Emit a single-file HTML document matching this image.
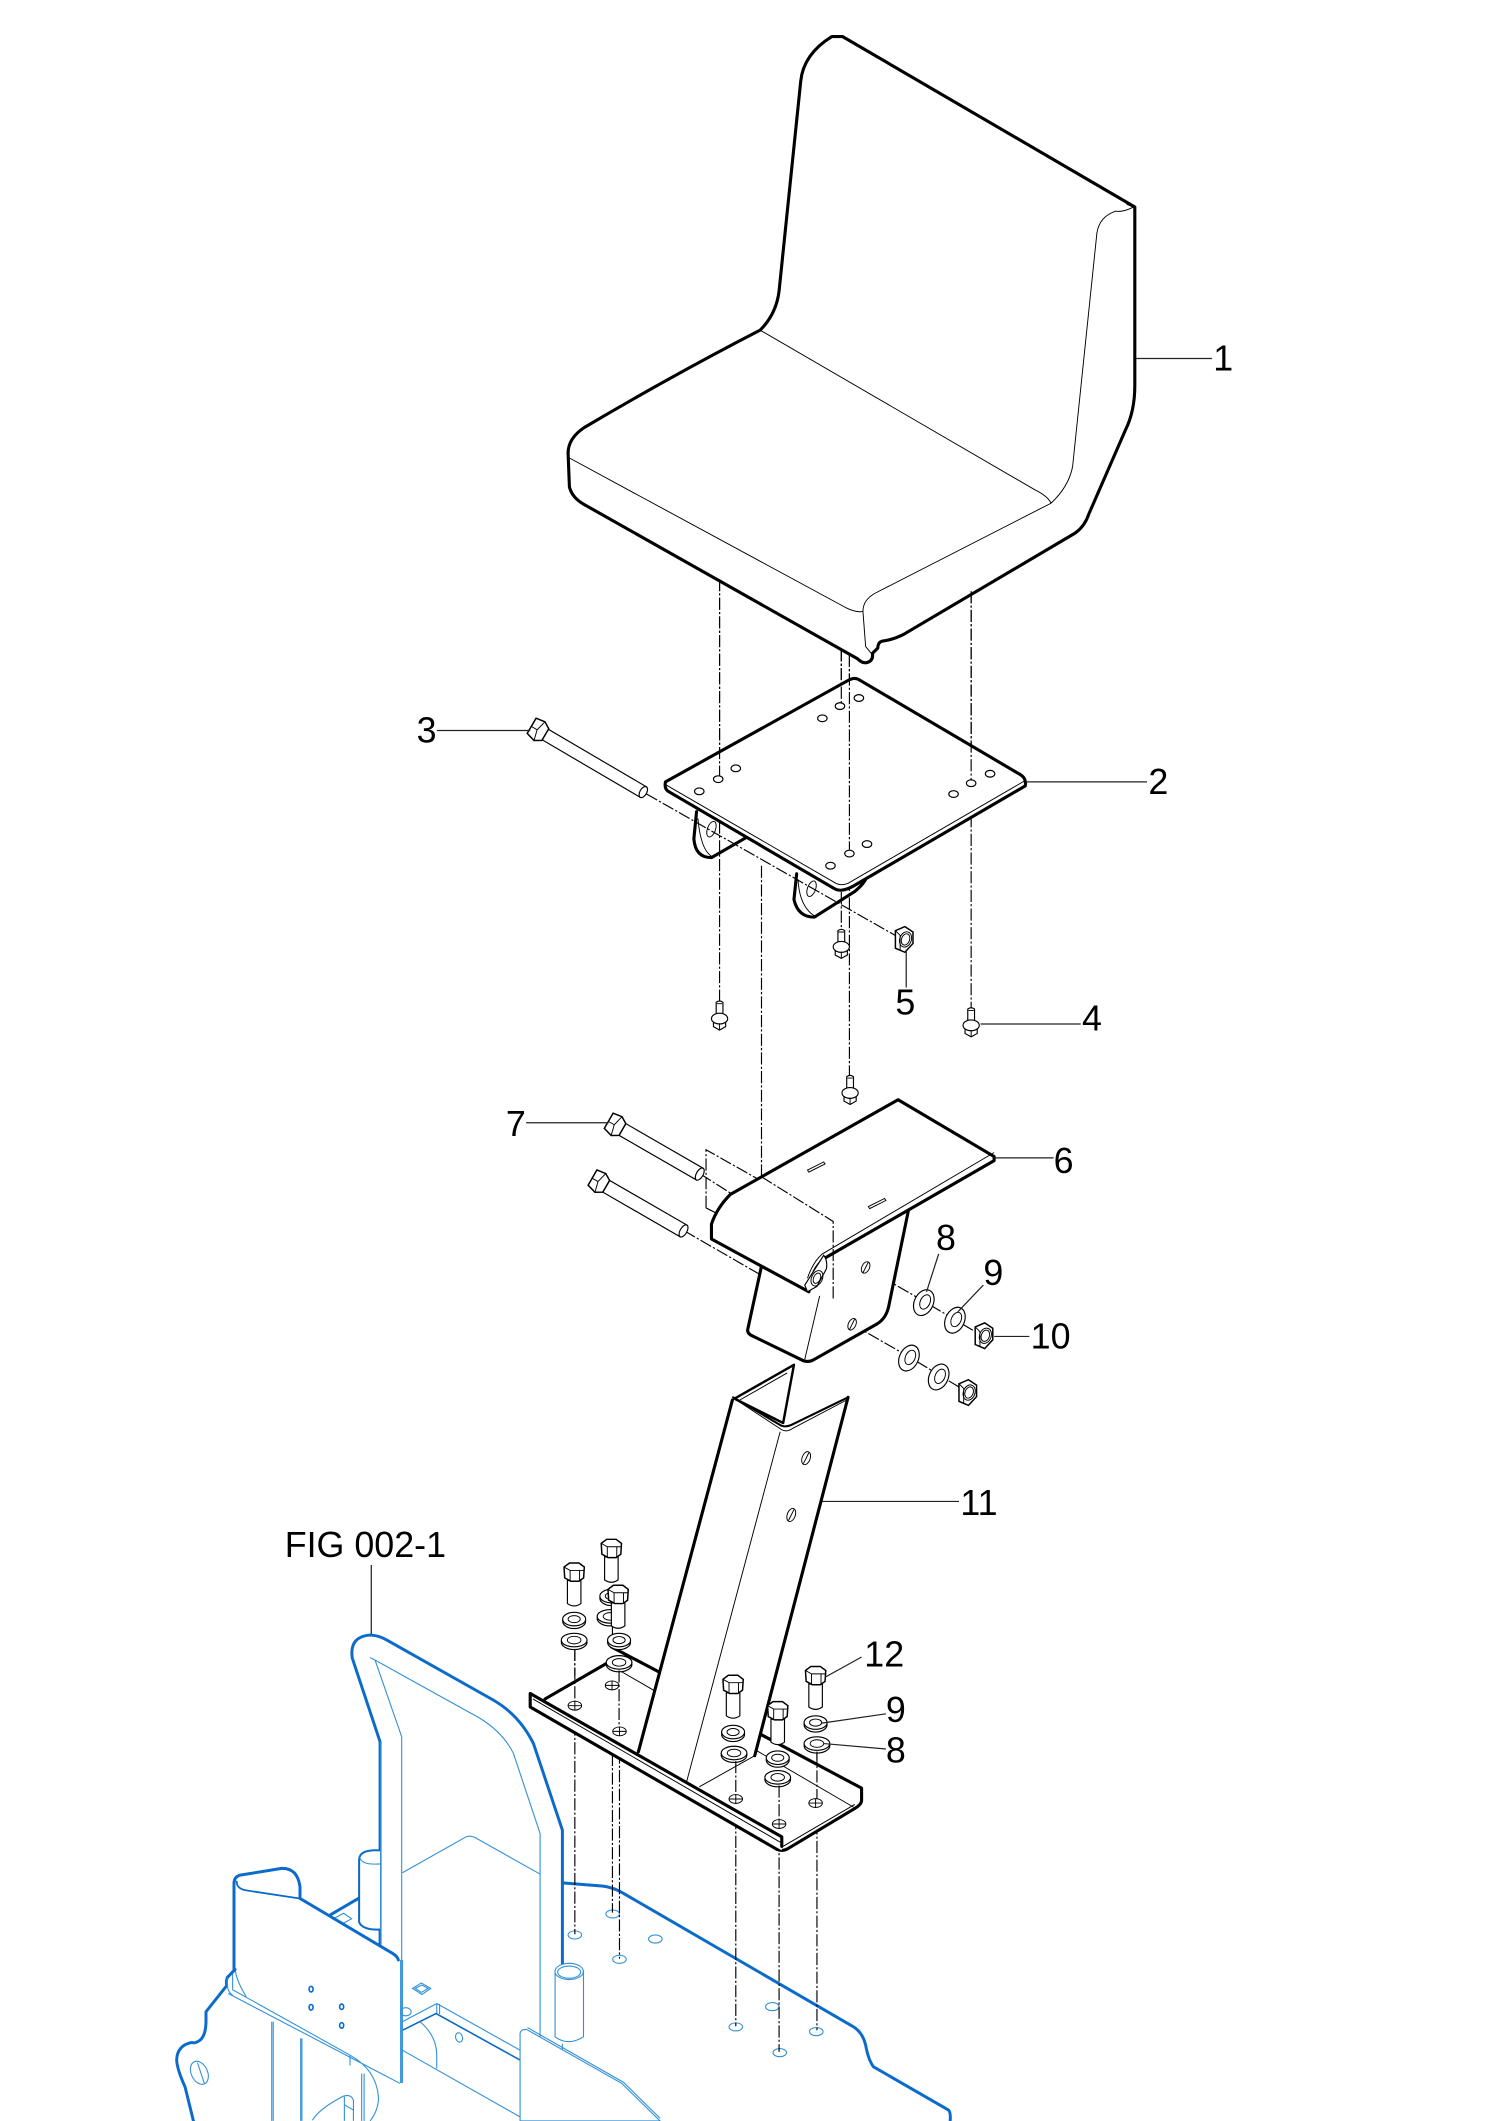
<!DOCTYPE html>
<html><head><meta charset="utf-8"><style>
html,body{margin:0;padding:0;background:#fff}
svg{display:block}
text{font-family:"Liberation Sans",sans-serif;font-size:26.5px;fill:#000}
.k{fill:none;stroke:#000;stroke-width:2.300;stroke-linecap:round;stroke-linejoin:round}
.kw{fill:#fff;stroke:#000;stroke-width:2.300;stroke-linejoin:round}
.t{fill:none;stroke:#000;stroke-width:.7}
.tw{fill:#fff;stroke:#000;stroke-width:.85}
.l{fill:none;stroke:#222;stroke-width:.9}
.d{fill:none;stroke:#000;stroke-width:.85;stroke-dasharray:9 1.600 1.600 1.600}
.b{fill:none;stroke:#0b6bcb;stroke-width:2.200;stroke-linejoin:round;stroke-linecap:round}
.bw{fill:#fff;stroke:#0b6bcb;stroke-width:2.200;stroke-linejoin:round}
.c{fill:none;stroke:#2f8fd8;stroke-width:.8}
.cw{fill:#fff;stroke:#2f8fd8;stroke-width:.8}
.bm{fill:none;stroke:#0b6bcb;stroke-width:1.200}
</style></head><body>
<svg width="1500" height="2121" viewBox="0 0 1109 1568" xmlns="http://www.w3.org/2000/svg">
<defs>
<g id="hb"><!-- vertical hex bolt -->
<path class="tw" d="M-5 13V30Q0 33.500 5 30V13Z"/>
<path class="tw" style="stroke-width:1.100" d="M-7.500 3L-3.500 0H3.500L7.500 3L7 11L3.500 13.500H-2.500L-7 11Z"/>
<path class="t" d="M-7.500 3L-3 5.500H7.500M-3 5.500V13.500M4 5.500V13.500"/>
</g>
<g id="sw"><ellipse class="tw" cx="0" cy="1.500" rx="8.500" ry="5.500"/><ellipse class="tw" cx="0" cy="0" rx="8.500" ry="5"/><ellipse class="t" cx="0" cy="0" rx="4.500" ry="2.600"/></g>
<g id="fw"><ellipse class="tw" cx="0" cy="1.500" rx="9.500" ry="5.500"/><ellipse class="tw" cx="0" cy="0" rx="9.500" ry="5"/><ellipse class="t" cx="0" cy="0" rx="5" ry="2.800"/></g>
<g id="ph"><ellipse class="t" cx="0" cy="0" rx="5" ry="3.300"/><path class="t" d="M-5 0H5M0-3.300V3.300"/></g>
<g id="fb"><!-- flange bolt -->
<path class="tw" d="M-2.500-10Q0-12 2.500-10V0H-2.500Z"/>
<path class="tw" d="M-4.500 3V8L0 10.500L4.500 8V3Z"/>
<ellipse class="tw" cx="0" cy="2" rx="6" ry="4"/>
<path class="t" d="M0 5.500V10.500M-2 -9H2"/>
</g>
<g id="nut"><path class="tw" style="stroke-width:1.100" d="M-6-7L1-10L7-6L7 2.500L1 9L-6 6Z"/><ellipse class="t" cx="1.500" cy="-.5" rx="4.300" ry="5.800" transform="rotate(20 1.500 -.5)"/><ellipse class="t" cx="1.500" cy="-.5" rx="3" ry="4.300" transform="rotate(20 1.500 -.5)"/><path class="t" d="M-6-7L-2.500-3.500L-2.500 7.500"/></g>
<g id="wsh"><ellipse class="tw" cx="0" cy="0" rx="7" ry="10" transform="rotate(25)"/><ellipse class="t" cx="1" cy="-.5" rx="3.600" ry="5.600" transform="rotate(25 1 -.5)"/></g>
<g id="lb"><!-- long bolt head local -->
<path class="tw" style="stroke-width:1.100" d="M-6-7L1-8L6-5V5L1 8L-6 6Z"/><path class="t" d="M1-8L-1 0L1 8M-6 0H-1"/>
</g>
</defs>

<!-- BLUE FRAME -->
<g>
<path class="c" d="M297.500 1384.500L343.800 1358.400Q347 1356.600 351 1358.400L399.300 1385.500"/>
<path class="b" d="M415.800 1392L446 1394.400Q454 1395.500 461 1399.800L631 1498.400Q638 1503 640 1512Q642 1523 645.800 1528L701.300 1560Q703 1562 702.500 1568"/>
<path class="c" d="M273.600 1225.500L277.300 1227.300L297 1284V1540M277.300 1227.300L355 1270.400Q372 1281 379.600 1296.300L399.300 1355.500V1505.800"/>
<path class="b" d="M281 1437V1287.700L260.500 1226Q258 1210 273.600 1208.800Q280 1209 286 1212.500L364.800 1256.900Q384 1268 394.400 1289L415.800 1353V1451.600"/>
<path class="c" d="M281.500 1287.700V1437"/>
<ellipse class="c" cx="425" cy="1430.500" rx="5" ry="3"/><ellipse class="c" cx="453" cy="1415" rx="5" ry="3"/><ellipse class="c" cx="458" cy="1448.500" rx="5" ry="3"/><ellipse class="c" cx="484.500" cy="1433.500" rx="5" ry="3"/><ellipse class="c" cx="544" cy="1498.500" rx="5" ry="3"/><ellipse class="c" cx="571" cy="1483.500" rx="5" ry="3"/><ellipse class="c" cx="576.500" cy="1517.500" rx="5" ry="3"/><ellipse class="c" cx="603.500" cy="1502" rx="5" ry="3"/>
<!-- cylinder behind -->
<path class="bw" style="stroke-width:1.500" d="M281 1368Q265.500 1367 265.500 1375V1421Q268 1427 281 1426.500"/>
<path class="c" d="M281 1378Q267 1379 266 1373"/>
<path class="b" d="M244 1415.800L265 1403.500"/>
<path class="c" d="M247.500 1418L254 1414.500L260 1418.500L253.500 1422Z"/>
<path class="c" d="M305 1470L311.500 1466L318.500 1470L312 1474.500ZM307 1470L312 1467.500L316.500 1470L311.500 1473Z"/>
<ellipse class="c" cx="300" cy="1487.300" rx="4" ry="3"/>
<!-- lower-right channel -->
<path class="c" d="M297.500 1494.700L322.900 1481.200L384.500 1515.700M322.900 1481.200V1488.600M325 1481.500V1489"/>
<path class="bm" d="M297.500 1501L322.400 1488.600L384.500 1523"/>
<path class="c" d="M310.600 1494.700Q322.900 1505 322.900 1520V1529.200M297.500 1515.700L384.500 1565"/>
<ellipse class="c" cx="339.400" cy="1506.300" rx="2.500" ry="3.500" transform="rotate(-15 339.400 1506.300)"/>
<!-- mount plate -->
<path class="bw" stroke="none" style="stroke:none" d="M173 1392L177.500 1386.300L208.300 1381.300Q220 1381 221.800 1395V1403.500L290.900 1444.200Q296 1447 296 1452V1540.300L172 1470Z"/>
<path class="b" d="M173 1456V1392.400Q173 1387.500 177.500 1386.300L208.300 1381.300Q220 1381 221.800 1395V1403.500L290 1444Q294 1446.500 294.500 1449"/>
<path class="b" style="stroke-width:1.300" d="M175 1391Q175 1396 181 1397.400L221 1403.500"/>
<path class="c" d="M296.200 1449V1540M297.500 1449V1540M173.800 1456Q175 1465 182 1476M172 1471L258.800 1519.400Q278 1530 279.800 1550Q280 1560 273.600 1568M168.800 1473.800L295.800 1540.300M172 1459.500V1471M258.800 1519.400V1527"/>
<ellipse class="bm" cx="230" cy="1470.600" rx="1.500" ry="2"/><ellipse class="bm" cx="230" cy="1484" rx="1.500" ry="2"/><ellipse class="bm" cx="252.600" cy="1483.600" rx="1.500" ry="2"/><ellipse class="bm" cx="252.600" cy="1497.400" rx="1.500" ry="2"/>
<path class="b" d="M173.800 1456L168 1462Q167 1465 167.600 1468L152.300 1487.300V1495Q152 1505 147.900 1508.300Q144 1511 142 1510Q131 1512 130.600 1523Q131 1530 136.800 1542.800L143 1568"/>
<path class="c" d="M168 1462Q167 1472 172 1475"/>
<ellipse class="c" cx="147.400" cy="1532.400" rx="6" ry="9" transform="rotate(-25 147.400 1532.400)"/>
<path class="c" d="M146 1525L151 1540"/>
<path class="c" d="M200.900 1494.700V1568M202 1494.700V1568M222.300 1507V1568M223.200 1507V1568M267.400 1533V1568M269.200 1533V1568"/>
<path class="c" d="M231 1567.500Q236 1559 253.900 1549.700Q260 1548 261.300 1553V1568M254.600 1550V1568M254.600 1556L261.300 1560"/>
<!-- right cylinder -->
<path class="cw" d="M410.400 1457V1505.800Q420 1513 431.400 1505.800V1457Z"/>
<ellipse class="cw" cx="420.800" cy="1457.500" rx="10.500" ry="6"/><ellipse class="c" cx="420.800" cy="1458" rx="8.500" ry="4.500"/>
<path class="c" d="M415.800 1511V1516"/>
<!-- right plate -->
<path class="cw" d="M384.500 1568V1503.300Q385 1500 389.400 1500.400L459.700 1540.300L488 1568Z"/>
<path class="c" d="M390 1499L461 1539.500L488 1566"/>
</g>

<!-- LUGS -->
<path class="tw" d="M515 600L513 620Q514 634 526 634L552 619"/>
<path class="k" d="M515 600L513 620Q514 634 526 634L552 619"/>
<path class="tw" style="stroke:none" d="M589 646L587 665Q590 678 602 678L640 652L620 640Z"/>
<path class="k" d="M589 646L587 665Q590 678 602 678L632 659Q638 654 640 650"/>
<path class="t" d="M516 605Q518 628 526 633M590 650Q591 670 602 677"/>
<ellipse class="t" cx="526" cy="613" rx="3" ry="6" transform="rotate(20 526 613)"/>
<ellipse class="t" cx="600" cy="657" rx="3" ry="6" transform="rotate(20 600 657)"/>

<!-- DASHED -->
<path class="d" d="M425 1219V1430M452.800 1200V1414M458 1212V1448M544 1302V1498M576 1318V1517M604 1292V1501"/>
<path class="d" d="M532 428V745M718 437V750M622 480V690M628 484V797M563 640V870"/>
<path class="d" d="M478 587L668 695M522 893V850L616 903V960M522 893L530 897M518 868L540 882M506 910L565 944M640 937L683 962L727 988M630 979L672 1003L715 1029"/>

<!-- SEAT -->
<path class="kw" d="M623 27L839 153V285Q839 304 832 318L805 380Q802 389 795 394L668 469Q660 473 652 474Q649 475 649 479L645 483Q646 489 640 490Q637 490 634 487L432 373Q423 368 421 360L420 335Q420 324 432 316Q498 277 562 244Q574 232 576 215L592 60Q594 40 615 27Q619 27 623 27Z"/>
<path class="t" d="M562 244L765 362Q775 367 777 372M420 338L625 449Q633 453 638 452M638 452Q638 443 648 438L777 372Q790 360 793 345L811 172Q813 160 825 156Q830 157 838 153M638 452L640 478L645 484M833 151L838 153"/>

<!-- PLATE 2 -->
<path class="kw" d="M492 578L627 503Q632 500 636 503L755 573Q759 576 758 581L631 655Q622 660 617 657L494 585Q491 583 492 578Z"/>
<path class="t" d="M492 580L618 653Q622 655 627 653L758 577"/>
<ellipse class="tw" cx="517" cy="585" rx="3.500" ry="2.500"/><ellipse class="tw" cx="531" cy="576" rx="3.500" ry="2.500"/><ellipse class="tw" cx="544" cy="568" rx="3.500" ry="2.500"/>
<ellipse class="tw" cx="608" cy="531" rx="3.500" ry="2.500"/><ellipse class="tw" cx="621" cy="522" rx="3.500" ry="2.500"/><ellipse class="tw" cx="635" cy="516" rx="3.500" ry="2.500"/>
<ellipse class="tw" cx="614" cy="640" rx="3.500" ry="2.500"/><ellipse class="tw" cx="628" cy="631" rx="3.500" ry="2.500"/><ellipse class="tw" cx="641" cy="624" rx="3.500" ry="2.500"/>
<ellipse class="tw" cx="705" cy="587" rx="3.500" ry="2.500"/><ellipse class="tw" cx="718" cy="579" rx="3.500" ry="2.500"/><ellipse class="tw" cx="732" cy="572" rx="3.500" ry="2.500"/>
<path class="d" d="M532 428V574M622 480V520M628 484V628M718 437V577"/>

<!-- BOLT 3 -->
<g transform="translate(398 540) rotate(30.400)"><path class="tw" d="M4-4.500H90V4.500H4Z"/><ellipse class="tw" cx="90" cy="0" rx="2.500" ry="4.500"/><use href="#lb"/></g>

<!-- small bolts/nut -->
<use href="#fb" x="532" y="751"/><use href="#fb" x="718" y="756"/><use href="#fb" x="622" y="698"/><use href="#fb" x="628.500" y="806"/>
<use href="#nut" x="668" y="695"/>

<!-- PART 6 -->
<path class="kw" d="M563 936L553 982Q552 985 555 987L592 1005Q597 1008 602 1005L648 979Q655 975 657 966L672 893Z"/>
<path class="t" d="M606 958L595 1005"/>
<path class="kw" d="M540 883L664 813L735 855V858L610 930Q605 934 602 940L598 955L526 916V905Q530 893 540 883Z"/>
<path class="t" d="M735 852L608 927Q601 933 597 945"/>
<path class="tw" d="M609 928Q612 932 611 938L604 951L597 955L595 950Z"/>
<ellipse class="t" cx="604" cy="945" rx="4" ry="6" transform="rotate(25 604 945)"/>
<ellipse class="t" cx="604" cy="945" rx="2.500" ry="4" transform="rotate(25 604 945)"/>
<path class="t" d="M597 865L609 859L610 860.500L598 866.500ZM642 892L654 886L655 887.500L643 893.500Z"/>
<ellipse class="t" cx="640" cy="937" rx="2.800" ry="4.500" transform="rotate(25 640 937)"/><path class="t" d="M638 941L642 933"/>
<ellipse class="t" cx="630" cy="979" rx="2.800" ry="4.500" transform="rotate(25 630 979)"/><path class="t" d="M628 983L632 975"/>
<path class="d" d="M563 870L616 903V960"/>
<!-- bolts 7 -->
<g transform="translate(455 832) rotate(30)"><path class="tw" d="M4-5H72V5H4Z"/><ellipse class="tw" cx="72" cy="0" rx="2.500" ry="5"/><use href="#lb"/></g>
<g transform="translate(443 874) rotate(30)"><path class="tw" d="M4-5H72V5H4Z"/><ellipse class="tw" cx="72" cy="0" rx="2.500" ry="5"/><use href="#lb"/></g>
<!-- washers -->
<use href="#wsh" x="683" y="963"/><use href="#wsh" x="706" y="976"/><use href="#nut" x="727" y="988"/>
<use href="#wsh" x="672" y="1004"/><use href="#wsh" x="694" y="1018"/><use href="#nut" x="715" y="1030"/>

<!-- BASE -->
<path fill="#fff" d="M392 1252L403 1256L452 1217.500L637 1322V1333L578 1368L392 1262Z"/>
<path class="k" d="M452 1217.500L488 1236.500M562 1282L637 1322V1331Q637 1334 632 1337L582 1367Q578 1369 574 1367"/>
<path class="k" d="M403 1256L448 1230"/>
<path class="t" d="M458 1235L484 1250M559 1294L631 1336M579 1365L632 1334"/>

<!-- CHANNEL 11 -->
<path class="kw" style="stroke-width:1.800" d="M543 1034L587 1009L579 1052Z"/>
<path class="t" d="M547 1035L582 1015"/>
<path fill="#fff" d="M542 1035L578 1056L582 1057L627 1033L558 1298L517 1321L507 1320L472 1295Z"/>
<path class="k" d="M541.500 1035L472 1295M627 1033L558 1298"/>
<path class="k" style="stroke-width:1.500" d="M542 1033L576 1053Q580 1056 586 1053L627 1033"/>
<path class="t" d="M546 1036L578 1057Q582 1059 586 1056L626 1035M576.800 1058.500L507.700 1317"/>
<ellipse class="t" cx="596" cy="1078" rx="3" ry="5" transform="rotate(20 596 1078)"/><path class="t" d="M594 1082L598 1074"/>
<ellipse class="t" cx="585" cy="1120" rx="3" ry="5" transform="rotate(20 585 1120)"/><path class="t" d="M583 1124L587 1116"/>
<path class="t" d="M517 1321L558 1298"/>

<!-- NEAR FLANGE -->
<path fill="#fff" d="M392 1252L578 1358V1368L392 1262Z"/>
<path class="k" d="M392 1252L578 1358V1365M392 1252V1262L574 1367"/>
<path class="t" d="M394 1256L577 1362"/>
<use href="#ph" x="425" y="1261"/><use href="#ph" x="452.500" y="1246"/><use href="#ph" x="458" y="1280"/><use href="#ph" x="544" y="1330"/><use href="#ph" x="576" y="1348.500"/><use href="#ph" x="603" y="1333"/>

<!-- bolts 12 and washers -->
<use href="#fw" x="424.500" y="1212.500"/><use href="#sw" x="424.500" y="1197"/><use href="#hb" x="424.500" y="1155.500"/>
<use href="#fw" x="451" y="1195"/><use href="#sw" x="452" y="1180"/><use href="#hb" x="452" y="1138"/>
<use href="#sw" x="457.700" y="1212.500"/><use href="#hb" x="457" y="1172"/>
<use href="#fw" x="457.700" y="1229"/>
<use href="#fw" x="542.700" y="1296"/><use href="#sw" x="542" y="1280.500"/><use href="#hb" x="542" y="1238.500"/>
<use href="#fw" x="575" y="1314"/><use href="#sw" x="575" y="1299.500"/><use href="#hb" x="575" y="1258"/>
<use href="#fw" x="604" y="1289"/><use href="#sw" x="603" y="1273.500"/><use href="#hb" x="603" y="1232"/>
<path class="d" d="M425 1219V1258M457.700 1235V1277M544 1302V1327M576 1320V1345M604 1295V1330"/>

<!-- LEADERS -->
<path class="l" d="M840 265H896M758 578H848M323 540H392M725 757H799M670 702V730M735 856H779M389 830H450M694 927L685 955M727 950L708 970M735 988H761M608 1110H709M637 1225L610 1240M607 1274L655 1267M609 1289L655 1293M274.500 1157V1208"/>

<!-- LABELS -->
<text x="897" y="274">1</text>
<text x="849" y="587">2</text>
<text x="308" y="549">3</text>
<text x="800" y="762">4</text>
<text x="662" y="750">5</text>
<text x="779" y="867">6</text>
<text x="374" y="840">7</text>
<text x="692" y="924">8</text>
<text x="727" y="950">9</text>
<text x="762" y="997">10</text>
<text x="710" y="1120">11</text>
<text x="639" y="1232">12</text>
<text x="655" y="1273">9</text>
<text x="655" y="1303">8</text>
<text x="210.500" y="1151">FIG 002-1</text>
</svg>
</body></html>
